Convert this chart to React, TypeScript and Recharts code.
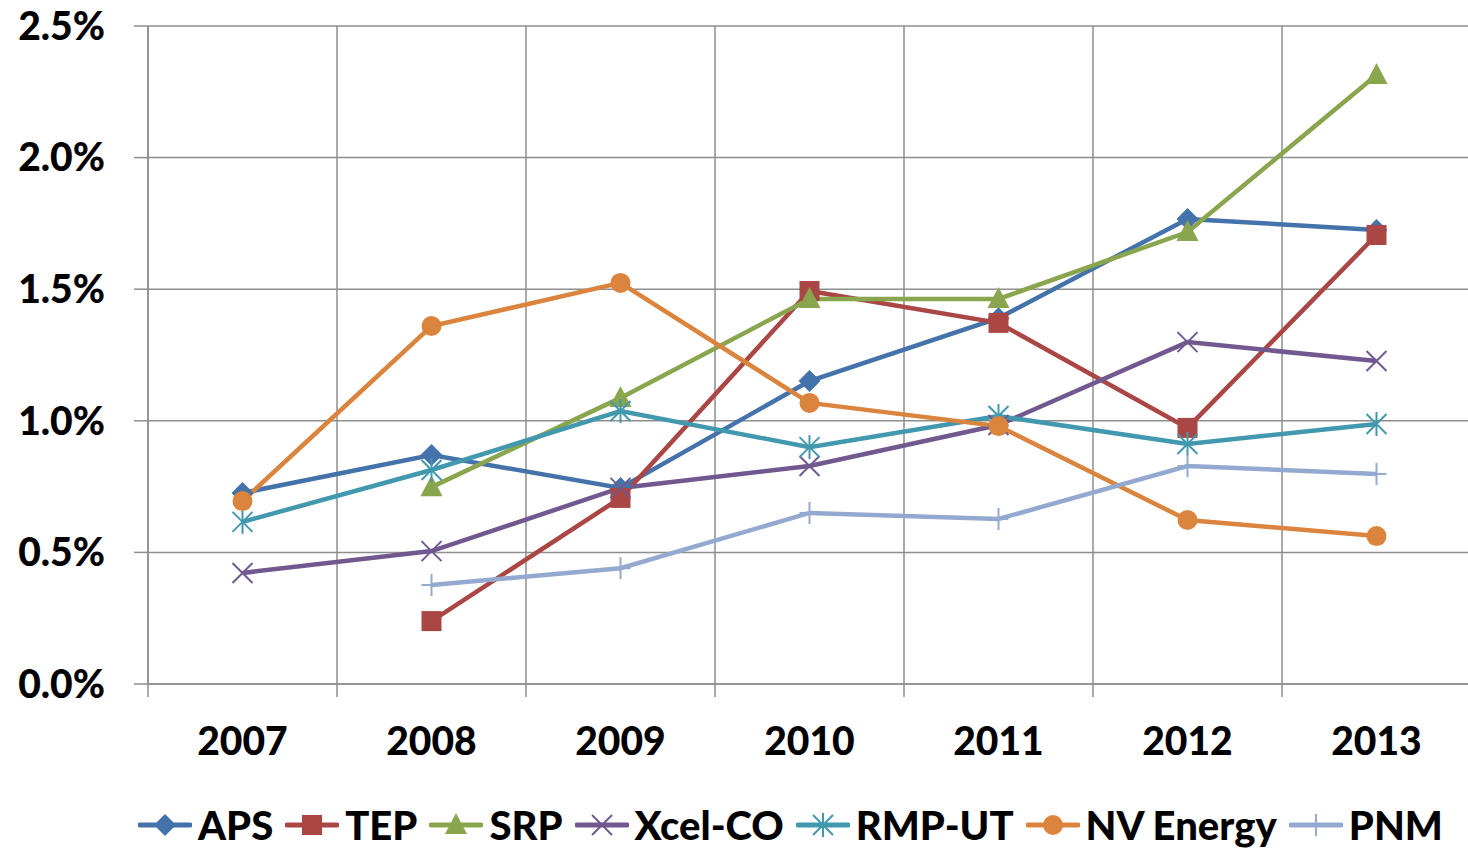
import { CartesianGrid, Legend, Line, LineChart, XAxis, YAxis } from 'recharts'

document.body.style.margin = '0'

const YEARS = ['2007', '2008', '2009', '2010', '2011', '2012', '2013']
const APS = [0.726, 0.87, 0.745, 1.151, 1.39, 1.767, 1.725]
const TEP = [null, 0.239, 0.707, 1.493, 1.372, 0.973, 1.706]
const SRP = [null, 0.748, 1.087, 1.463, 1.463, 1.717, 2.314]
const XCEL = [0.422, 0.505, 0.745, 0.828, 0.984, 1.299, 1.227]
const RMP = [0.616, 0.813, 1.037, 0.9, 1.018, 0.912, 0.988]
const NV = [0.695, 1.36, 1.524, 1.068, 0.98, 0.623, 0.562]
const PNM = [null, 0.376, 0.44, 0.65, 0.627, 0.828, 0.798]
const Y_TICKS = [0, 0.5, 1.0, 1.5, 2.0, 2.5]

const data = YEARS.map((year, i) => ({
  year,
  APS: APS[i],
  TEP: TEP[i],
  SRP: SRP[i],
  'Xcel-CO': XCEL[i],
  'RMP-UT': RMP[i],
  'NV Energy': NV[i],
  PNM: PNM[i]
}))

const SERIES = [
  { key: 'APS', color: '#4472AB', marker: 'diamond' },
  { key: 'TEP', color: '#AA4643', marker: 'square' },
  { key: 'SRP', color: '#89A54E', marker: 'triangle' },
  { key: 'Xcel-CO', color: '#71588F', marker: 'x' },
  { key: 'RMP-UT', color: '#4198AF', marker: 'star' },
  { key: 'NV Energy', color: '#DB843D', marker: 'circle' },
  { key: 'PNM', color: '#93A9CF', marker: 'plus' }
]

const FONT = 'Lato, "Open Sans", sans-serif'
const WEIGHT = 900
const GRID = '#8e8e8e'
const CHART_W = 1471
const LEFT = 148
const BAND = (CHART_W - LEFT) / YEARS.length

const Marker = ({ cx, cy, type, color }: any) => {
  if (cx == null || cy == null) return <g />
  const s = 10
  switch (type) {
    case 'diamond':
      return <polygon points={`${cx},${cy - s - 1} ${cx + s + 1},${cy} ${cx},${cy + s + 1} ${cx - s - 1},${cy}`} fill={color} />
    case 'square':
      return <rect x={cx - s} y={cy - s} width={2 * s} height={2 * s} fill={color} />
    case 'triangle':
      return <polygon points={`${cx},${cy - s - 2} ${cx + s + 1},${cy + s - 1} ${cx - s - 1},${cy + s - 1}`} fill={color} />
    case 'circle':
      return <circle cx={cx} cy={cy} r={s} fill={color} />
    case 'x':
      return (
        <g stroke={color} strokeWidth={2}>
          <line x1={cx - s} y1={cy - s} x2={cx + s} y2={cy + s} />
          <line x1={cx - s} y1={cy + s} x2={cx + s} y2={cy - s} />
        </g>
      )
    case 'star':
      return (
        <g stroke={color} strokeWidth={2}>
          <line x1={cx - s} y1={cy - s} x2={cx + s} y2={cy + s} />
          <line x1={cx - s} y1={cy + s} x2={cx + s} y2={cy - s} />
          <line x1={cx} y1={cy - s - 2} x2={cx} y2={cy + s + 2} />
        </g>
      )
    case 'plus':
      return (
        <g stroke={color} strokeWidth={2}>
          <line x1={cx} y1={cy - s - 1} x2={cx} y2={cy + s + 1} />
          <line x1={cx - s} y1={cy} x2={cx + s} y2={cy} />
        </g>
      )
  }
  return <g />
}

const XTick = ({ x, y, payload }: any) => (
  <g>
    <line x1={x - BAND / 2} y1={y} x2={x - BAND / 2} y2={y + 13} stroke={GRID} strokeWidth={1.5} />
    <text x={x} y={y + 71} textAnchor='middle' fontFamily={FONT} fontWeight={WEIGHT} fontSize={39} fill='#000'>
      {payload.value}
    </text>
  </g>
)

const LegendContent = () => (
  <div style={{ display: 'flex', height: 50, alignItems: 'center', paddingLeft: 138, gap: 12 }}>
    {SERIES.map(s => (
      <div key={s.key} style={{ display: 'flex', alignItems: 'center', gap: 6 }}>
        <svg width={54} height={30}>
          <line x1={2} y1={15} x2={52} y2={15} stroke={s.color} strokeWidth={5} strokeLinecap='round' />
          <Marker cx={27} cy={15} type={s.marker} color={s.color} />
        </svg>
        <span style={{ fontFamily: FONT, fontWeight: WEIGHT, fontSize: 40, color: '#000', lineHeight: '50px' }}>
          {s.key}
        </span>
      </div>
    ))}
  </div>
)

const App = () => (
  <div style={{ width: 1468, height: 850, overflow: 'hidden' }}>
    <LineChart width={CHART_W} height={850} data={data} margin={{ top: 26, right: 0, bottom: 0, left: 0 }}>
      <CartesianGrid
        stroke={GRID}
        strokeWidth={1.5}
        verticalCoordinatesGenerator={({ offset }: any) =>
          YEARS.map((_, i) => offset.left + (i * offset.width) / YEARS.length)
        }
      />
      <XAxis
        dataKey='year'
        scale='band'
        height={116}
        tickLine={false}
        tickSize={0}
        tickMargin={0}
        axisLine={{ stroke: GRID, strokeWidth: 1.5 }}
        tick={<XTick />}
        interval={0}
      />
      <YAxis
        width={LEFT}
        domain={[0, 2.5]}
        ticks={Y_TICKS}
        tickFormatter={(v: number) => v.toFixed(1) + '%'}
        tickSize={14}
        tickMargin={29}
        tickLine={{ stroke: GRID, strokeWidth: 1.5 }}
        axisLine={{ stroke: GRID, strokeWidth: 1.5 }}
        tick={{ fill: '#000', fontFamily: FONT, fontWeight: WEIGHT, fontSize: 39 }}
      />
      <Legend verticalAlign='bottom' content={<LegendContent />} />
      {SERIES.map(s => (
        <Line
          key={s.key}
          type='linear'
          dataKey={s.key}
          stroke={s.color}
          strokeWidth={4.5}
          isAnimationActive={false}
          dot={(p: any) => <Marker key={`${s.key}-${p.index}`} cx={p.cx} cy={p.cy} type={s.marker} color={s.color} />}
          activeDot={false}
        />
      ))}
    </LineChart>
  </div>
)

export default App
